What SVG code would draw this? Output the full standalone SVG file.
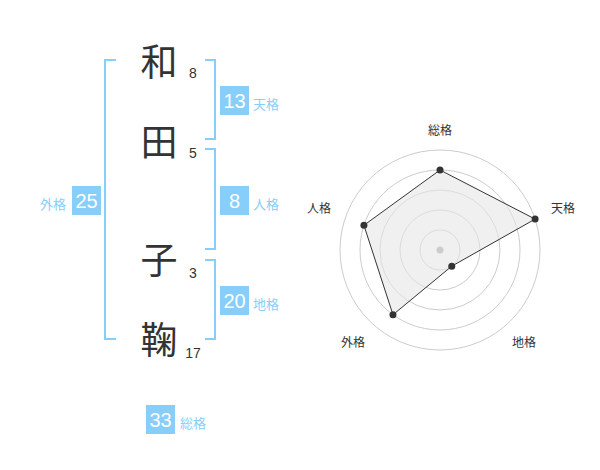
<svg xmlns="http://www.w3.org/2000/svg" width="600" height="470" viewBox="0 0 600 470">
<style>
.ch{font-family:"Noto Sans CJK JP","Noto Sans CJK SC",sans-serif;font-size:37px;fill:#333;text-anchor:middle}
.num{font-family:"Liberation Sans",Arial,sans-serif;font-size:14px;fill:#333;text-anchor:middle}
.box{fill:#87cefa}
.bt{font-family:"Liberation Sans",Arial,sans-serif;font-size:20px;fill:#fff;text-anchor:middle}
.lb{font-family:"Noto Sans CJK JP","Noto Sans CJK SC",sans-serif;font-size:13px;fill:#87cefa}
.br{fill:none;stroke:#87cefa;stroke-width:2}
.ring{fill:none;stroke:#ccc;stroke-width:1}
.rl{font-family:"Noto Sans CJK JP","Noto Sans CJK SC",sans-serif;font-size:12px;fill:#333;text-anchor:middle}
.pt{fill:#333}
</style>
<rect width="600" height="470" fill="#fff"/>
<g id="connectors">
<path class="br" d="M116,60 H105 V339 H116"/>
<path class="br" d="M205,60 H215 V139 H205"/>
<path class="br" d="M205,149 H215 V249 H205"/>
<path class="br" d="M205,260 H215 V339 H205"/>
</g>
<g id="char1"><text class="ch" x="159" y="76">和</text><text class="num" x="193" y="78">8</text></g>
<g id="char2"><text class="ch" x="159" y="156">田</text><text class="num" x="193" y="158">5</text></g>
<g id="char3"><text class="ch" x="159" y="274">子</text><text class="num" x="193" y="278">3</text></g>
<g id="char4"><text class="ch" x="159" y="354">鞠</text><text class="num" x="193" y="358">17</text></g>
<g id="tenkaku"><rect class="box" x="220" y="86" width="29" height="29"/><text class="bt" x="234.5" y="108">13</text><text class="lb" x="253" y="108.5">天格</text></g>
<g id="jinkaku"><rect class="box" x="220" y="186" width="29" height="29"/><text class="bt" x="234.5" y="208">8</text><text class="lb" x="253" y="208.5">人格</text></g>
<g id="chikaku"><rect class="box" x="220" y="286" width="29" height="29"/><text class="bt" x="234.5" y="308">20</text><text class="lb" x="253" y="308.5">地格</text></g>
<g id="gaikaku"><rect class="box" x="72" y="186" width="29" height="29"/><text class="bt" x="86.5" y="208">25</text><text class="lb" x="66" y="208.5" text-anchor="end">外格</text></g>
<g id="soukaku"><rect class="box" x="146" y="405" width="29" height="29"/><text class="bt" x="160.5" y="427">33</text><text class="lb" x="180" y="427.5">総格</text></g>
<g id="radar">
<circle class="ring" cx="440" cy="250" r="100"/>
<circle class="ring" cx="440" cy="250" r="80"/>
<circle class="ring" cx="440" cy="250" r="60"/>
<circle class="ring" cx="440" cy="250" r="40"/>
<circle class="ring" cx="440" cy="250" r="20"/>
<polygon points="440,170 535.11,219.1 451.76,266.18 392.98,314.72 363.92,225.28" fill="#e6e6e6" fill-opacity="0.6" stroke="#333" stroke-width="1"/>
<circle cx="440" cy="250" r="3.5" fill="#ccc"/>
<circle class="pt" cx="440" cy="170" r="3.5"/>
<circle class="pt" cx="535.11" cy="219.1" r="3.5"/>
<circle class="pt" cx="451.76" cy="266.18" r="3.5"/>
<circle class="pt" cx="392.98" cy="314.72" r="3.5"/>
<circle class="pt" cx="363.92" cy="225.28" r="3.5"/>
<text class="rl" x="440" y="135">総格</text>
<text class="rl" x="563" y="213">天格</text>
<text class="rl" x="524" y="347">地格</text>
<text class="rl" x="353" y="347">外格</text>
<text class="rl" x="319" y="213">人格</text>
</g>
</svg>
